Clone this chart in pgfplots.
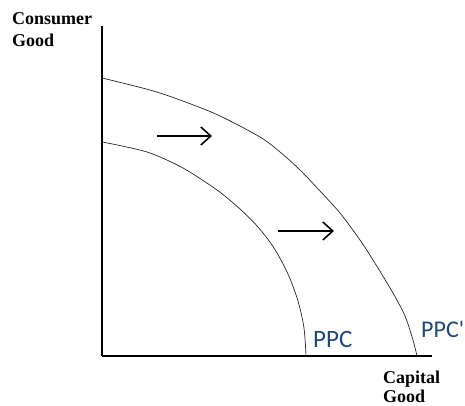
\documentclass[border=0pt]{standalone}
\usepackage{fontspec}
\setmainfont{Liberation Serif}
\newfontfamily\calib{Carlito}
\usepackage{pgfplots}
\pgfplotsset{compat=1.18}
\usetikzlibrary{arrows.meta}
\definecolor{ppcblue}{HTML}{1F497D}
\begin{document}
\begin{tikzpicture}
\useasboundingbox (-102bp,-50bp) rectangle (363bp,356bp);
\begin{axis}[
  at={(0,0)}, anchor=origin,
  width=330bp, height=330bp, scale only axis,
  xmin=0, xmax=330, ymin=0, ymax=330,
  axis x line*=bottom, axis y line*=left,
  axis line style={line width=1.8pt, -},
  xtick=\empty, ytick=\empty,
  clip=false,
]
% PPC (inner)
\addplot[smooth, tension=0.5, line width=0.7pt, black!85] coordinates {
 (0,214) (20,210) (48,203) (81,188) (115,166) (138,147) (156,129) (172,108) (186,82) (196,55) (202,28) (204,0)};
% PPC' (outer)
\addplot[smooth, tension=0.5, line width=0.7pt, black!85] coordinates {
 (0,278) (48,266) (78,256) (116,241) (158,219) (178,204) (198,186) (218,165) (238,143) (258,116) (271,96) (291,63) (303,40) (311,16) (315,0)};
% arrows
\addplot[line width=1.6pt, -{Straight Barb[length=10bp,width=18bp]}] coordinates {(55,220) (110,220)};
\addplot[line width=1.6pt, -{Straight Barb[length=10bp,width=18bp]}] coordinates {(176,125) (232,125)};
% labels
\node[anchor=base west, inner sep=0, font=\fontsize{18bp}{20bp}\selectfont\bfseries] at (axis cs:-90,332) {Consumer};
\node[anchor=base west, inner sep=0, font=\fontsize{18bp}{20bp}\selectfont\bfseries] at (axis cs:-90,310) {Good};
\node[anchor=base west, inner sep=0, font=\fontsize{18bp}{20bp}\selectfont\bfseries] at (axis cs:281,-27) {Capital};
\node[anchor=base west, inner sep=0, font=\fontsize{18bp}{20bp}\selectfont\bfseries] at (axis cs:281,-46) {Good};
\node[anchor=base west, inner sep=0, text=ppcblue, font=\calib\fontsize{25bp}{28bp}\selectfont] at (axis cs:211,9) {PPC};
\node[anchor=base west, inner sep=0, text=ppcblue, font=\calib\fontsize{24bp}{28bp}\selectfont] at (axis cs:319,19) {PPC'};
\end{axis}
\end{tikzpicture}
\end{document}
